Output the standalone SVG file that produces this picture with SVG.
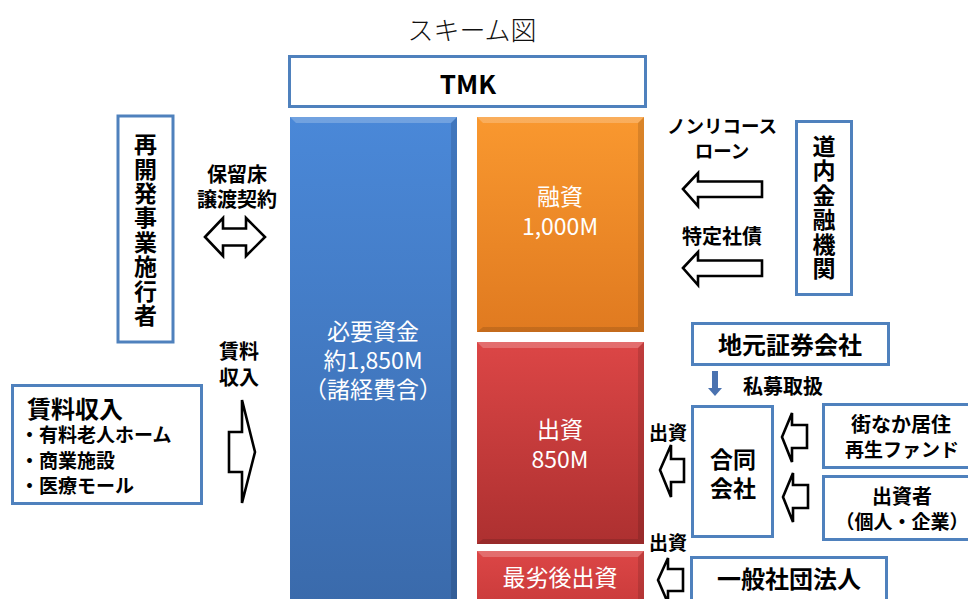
<svg xmlns="http://www.w3.org/2000/svg" width="968" height="599" viewBox="0 0 968 599">
<defs>
<linearGradient id="gBlue" x1="0" y1="0" x2="0" y2="1"><stop offset="0" stop-color="#4a88d8"/><stop offset="1" stop-color="#3a6aab"/></linearGradient>
<linearGradient id="gOrange" x1="0" y1="0" x2="0" y2="1"><stop offset="0" stop-color="#f9982f"/><stop offset="1" stop-color="#e07a20"/></linearGradient>
<linearGradient id="gRed" x1="0" y1="0" x2="0" y2="1"><stop offset="0" stop-color="#dc4646"/><stop offset="1" stop-color="#ad3030"/></linearGradient>
<linearGradient id="gRed2" x1="0" y1="0" x2="0" y2="1"><stop offset="0" stop-color="#dc4646"/><stop offset="1" stop-color="#c83a3a"/></linearGradient>
</defs>
<style>
.box{fill:#fff;stroke:#4f81bd;stroke-width:3}
.arr{fill:#fff;stroke:#000;stroke-width:2.6;stroke-linejoin:miter}
.t{font-family:"Noto Sans CJK JP","Noto Sans",sans-serif;font-weight:bold;fill:#000;text-anchor:middle;dominant-baseline:central}
.ts{font-family:"Noto Sans CJK JP","Noto Sans",sans-serif;font-weight:bold;fill:#000;text-anchor:start;dominant-baseline:central}
.v{font-family:"Noto Sans CJK JP","Noto Sans",sans-serif;font-weight:bold;fill:#000;text-anchor:middle;writing-mode:vertical-rl;font-size:23px}
.w{font-family:"Noto Sans CJK JP","Noto Sans",sans-serif;fill:#fff;text-anchor:middle;dominant-baseline:central;font-size:23px}
.hl{fill:#fff;opacity:0.22}
.sh{fill:#000;opacity:0.12}
</style>
<rect width="968" height="599" fill="#fff"/>
<text x="472" y="28" font-family="'Noto Sans CJK JP',sans-serif" font-weight="300" font-size="26" text-anchor="middle" dominant-baseline="central" fill="#111">スキーム図</text>

<g id="tmk">
<rect class="box" x="289.5" y="56.5" width="356" height="50"/>
<text class="t" x="468" y="82" font-size="26">TMK</text>
</g>

<g id="required-funds">
<rect x="290" y="117" width="167" height="490" fill="url(#gBlue)"/>
<polygon class="hl" points="290,117 457,117 451,123 296,123"/>
<polygon class="sh" points="451,123 457,117 457,599 451,599"/>
<text class="w" x="373" y="330"><tspan x="373" y="330">必要資金</tspan><tspan x="373" y="359">約1,850M</tspan><tspan x="373" y="388">（諸経費含）</tspan></text>
</g>

<g id="loan">
<rect x="477" y="117" width="167" height="215" fill="url(#gOrange)"/>
<polygon class="hl" points="477,117 644,117 638,123 483,123"/>
<polygon class="sh" points="638,123 644,117 644,332 638,327"/>
<polygon class="sh" points="483,327 638,327 644,332 477,332"/>
<text class="w" x="560" y="195"><tspan x="560" y="195">融資</tspan><tspan x="560" y="225">1,000M</tspan></text>
</g>

<g id="equity">
<rect x="477" y="342" width="167" height="202" fill="url(#gRed)"/>
<polygon class="hl" points="477,342 644,342 638,348 483,348"/>
<polygon class="sh" points="638,348 644,342 644,544 638,539"/>
<polygon class="sh" points="483,539 638,539 644,544 477,544"/>
<text class="w" x="560" y="428"><tspan x="560" y="428">出資</tspan><tspan x="560" y="458">850M</tspan></text>
</g>

<g id="subordinated">
<rect x="477" y="551" width="167" height="60" fill="url(#gRed2)"/>
<polygon class="hl" points="477,551 644,551 638,557 483,557"/>
<polygon class="sh" points="638,557 644,551 644,599 638,599"/>
<text class="w" x="560" y="576">最劣後出資</text>
</g>

<g id="developer">
<rect class="box" x="118" y="116" width="55" height="226"/>
<text class="v" x="145.5" y="230.5" letter-spacing="1.4">再開発事業施行者</text>
</g>

<g id="rent-income">
<rect class="box" x="12.5" y="385.5" width="189" height="118"/>
<text class="ts" x="27" y="407" font-size="24">賃料収入</text>
<text class="ts" font-size="19"><tspan x="20" y="433">・有料老人ホーム</tspan><tspan x="20" y="459">・商業施設</tspan><tspan x="20" y="484">・医療モール</tspan></text>
</g>

<g id="local-banks">
<rect class="box" x="796.5" y="121.5" width="55" height="173"/>
<text class="v" x="824" y="208" letter-spacing="1.4">道内金融機関</text>
</g>

<g id="securities">
<rect class="box" x="692.5" y="323.5" width="196" height="41"/>
<text class="t" x="790" y="343" font-size="24">地元証券会社</text>
</g>

<g id="godo-kaisha">
<rect class="box" x="692.5" y="406.5" width="80" height="130"/>
<text class="t" font-size="23"><tspan x="733" y="458">合同</tspan><tspan x="733" y="487">会社</tspan></text>
</g>

<g id="fund">
<rect class="box" x="823.5" y="404.5" width="160" height="63"/>
<text class="t"><tspan x="901" y="423" font-size="20">街なか居住</tspan><tspan x="902" y="448" font-size="19">再生ファンド</tspan></text>
</g>

<g id="investors">
<rect class="box" x="823.5" y="476.5" width="160" height="63"/>
<text class="t"><tspan x="902" y="495" font-size="20">出資者</tspan><tspan x="902" y="520" font-size="19">（個人・企業）</tspan></text>
</g>

<g id="general-association">
<rect class="box" x="691.5" y="557.5" width="195" height="60"/>
<text class="t" x="789" y="577" font-size="24">一般社団法人</text>
</g>

<g id="connectors">
<polygon class="arr" points="205,237 223,218 223,228.5 246,228.5 246,218 265,237 246,256 246,245.5 223,245.5 223,256"/>
<text class="t" font-size="20"><tspan x="237" y="173">保留床</tspan><tspan x="237" y="198">譲渡契約</tspan></text>

<polygon class="arr" points="229,432 242,432 242,400 255,452 242,503 242,472 229,472"/>
<text class="t" font-size="20"><tspan x="239" y="350">賃料</tspan><tspan x="239" y="376">収入</tspan></text>

<polygon class="arr" points="683,189 698,173 698,181.5 762,181.5 762,197 698,197 698,206"/>
<text class="t" font-size="18.5"><tspan x="722" y="125">ノンリコース</tspan><tspan x="722" y="150">ローン</tspan></text>

<polygon class="arr" points="683,268 698,252 698,260.5 762,260.5 762,276 698,276 698,285"/>
<text class="t" x="722" y="235" font-size="20">特定社債</text>

<polygon points="712,371 718,371 718,388 722,388 715,396 708,388 712,388" fill="#4a72b0"/>
<text class="t" x="783" y="385" font-size="20">私募取扱</text>

<polygon class="arr" points="782,437 792,413 792,425 807,425 807,448 792,448 792,462"/>
<polygon class="arr" points="783,497 793,473 793,485 808,485 808,508 793,508 793,522"/>

<polygon class="arr" points="660,470 671,445 671,459 684,459 684,482 671,482 671,497"/>
<text class="t" x="668" y="431" font-size="19">出資</text>

<polygon class="arr" points="658,580 668,558 668,569 683,569 683,591 668,591 668,603"/>
<text class="t" x="668" y="541" font-size="19">出資</text>
</g>
</svg>
